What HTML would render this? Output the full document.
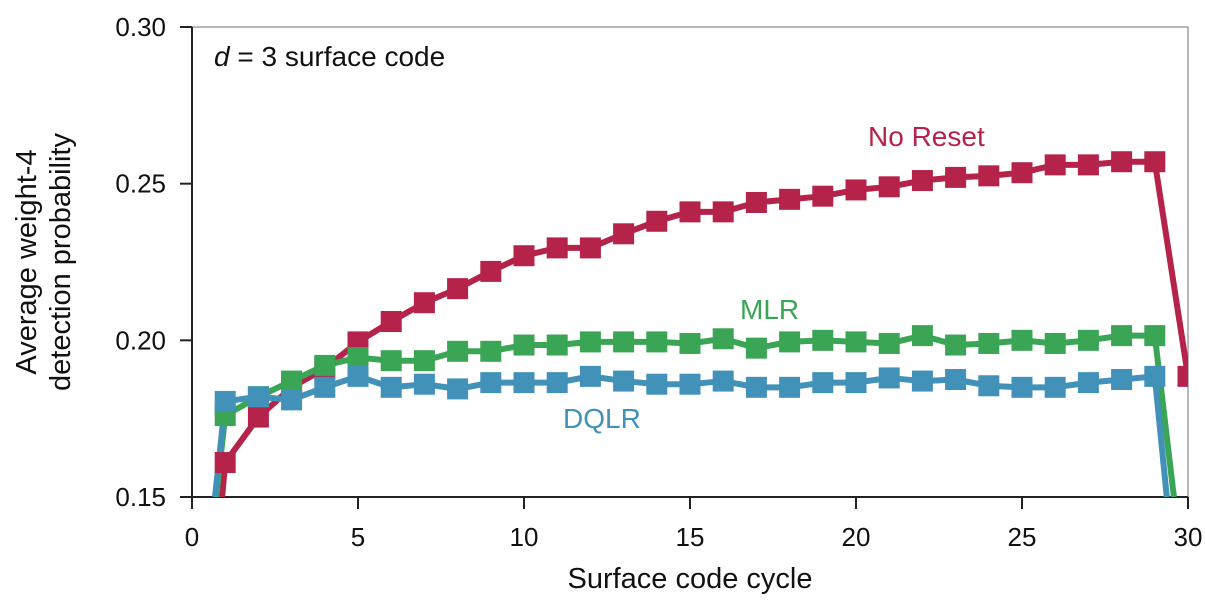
<!DOCTYPE html>
<html><head><meta charset="utf-8"><style>
html,body{margin:0;background:#fff;overflow:hidden;width:1205px;height:600px;}
svg{display:block;}
svg text{font-family:"Liberation Sans",sans-serif;}
</style></head><body>
<svg id="c" width="1205" height="600" viewBox="0 0 1205 600">
<defs><clipPath id="clip"><rect x="192" y="27" width="996" height="470"/></clipPath></defs>
<rect x="192" y="27" width="996" height="470" fill="none" stroke="#888" stroke-width="1.2"/>
<line x1="192" y1="27" x2="192" y2="497" stroke="#222" stroke-width="2"/>
<line x1="192" y1="497" x2="1188" y2="497" stroke="#222" stroke-width="2"/>
<g id="ticks"></g>
<g id="series" clip-path="url(#clip)"></g>
<text x="214" y="66" font-size="28" fill="#111"><tspan font-style="italic">d</tspan> = 3 surface code</text>
<text x="868" y="146" font-size="28" fill="#b5234a">No Reset</text>
<text x="740" y="319" font-size="28" fill="#3aa655">MLR</text>
<text x="563" y="428" font-size="28" fill="#4191b8">DQLR</text>
<text x="690" y="588" font-size="29" fill="#111" text-anchor="middle">Surface code cycle</text>
<text transform="translate(36,262) rotate(-90)" font-size="29" fill="#111" text-anchor="middle"><tspan x="0" dy="0">Average weight-4</tspan><tspan x="0" dy="34">detection probability</tspan></text>
</svg>
<script>
const xTicks=[0,5,10,15,20,25,30];
const yTicks=[0.15,0.20,0.25,0.30];
const yTickLabels=["0.15","0.20","0.25","0.30"];
const cycles=[0,1,2,3,4,5,6,7,8,9,10,11,12,13,14,15,16,17,18,19,20,21,22,23,24,25,26,27,28,29,30];
const noReset=[0.042,0.161,0.1755,0.185,0.191,0.1995,0.206,0.212,0.2165,0.222,0.227,0.2295,0.2295,0.234,0.238,0.241,0.241,0.244,0.245,0.246,0.248,0.249,0.251,0.252,0.2525,0.2535,0.256,0.256,0.257,0.257,0.1885];
const mlr=[0.08,0.176,0.182,0.187,0.192,0.1945,0.1935,0.1935,0.1965,0.1965,0.1985,0.1985,0.1995,0.1995,0.1995,0.199,0.2005,0.1975,0.1995,0.2,0.1995,0.199,0.2015,0.1985,0.199,0.2,0.199,0.2,0.2015,0.2015,0.112];
const dqlr=[0.081,0.1805,0.182,0.181,0.185,0.1885,0.185,0.186,0.1845,0.1865,0.1865,0.1865,0.1885,0.187,0.186,0.186,0.187,0.185,0.185,0.1865,0.1865,0.188,0.187,0.1875,0.1855,0.185,0.185,0.1865,0.1875,0.1885,0.082];
const YMIN=0.15;
const X=v=>192+v*(996/30);
const Y=v=>497-(v-0.15)*(470/0.15);
const NS="http://www.w3.org/2000/svg";
function mk(t,a,p){const e=document.createElementNS(NS,t);for(const k in a)e.setAttribute(k,a[k]);p.appendChild(e);return e;}
const tk=document.getElementById('ticks');
xTicks.forEach(v=>{
 const l=mk('line',{x1:X(v),x2:X(v),y1:497,y2:509,stroke:'#222','stroke-width':2},tk);
 
 
 const t=mk('text',{x:X(v),y:546,'font-size':26,'text-anchor':'middle',fill:'#111'},tk);
 t.textContent=v;
 
 
});
yTicks.forEach((v,i)=>{
 const l=mk('line',{x1:180,x2:192,y1:Y(v),y2:Y(v),stroke:'#222','stroke-width':2},tk);
 
 
 const t=mk('text',{x:166,y:Y(v)+9,'font-size':26,'text-anchor':'end',fill:'#111'},tk);
 t.textContent=yTickLabels[i];
 
 
});
// clip data line to y >= YMIN (in data space)
function clippedPoints(d){
 const pts=[];
 for(let i=0;i<d.length;i++){
  const x=cycles[i],v=d[i];
  if(v>=YMIN){pts.push([x,v]);}
  if(i<d.length-1){
   const x2=cycles[i+1],v2=d[i+1];
   if((v<YMIN)!==(v2<YMIN)){
    const t=(YMIN-v)/(v2-v);
    pts.push([x+(x2-x)*t,YMIN]);
   }
  }
 }
 return pts;
}
const sg=document.getElementById('series');
const series=[[noReset,'#b5234a','no-reset'],[mlr,'#3aa655','mlr'],[dqlr,'#4191b8','dqlr']];
series.forEach(([d,c,n])=>{
 const p=mk('polyline',{points:clippedPoints(d).map(([x,v])=>X(x)+','+Y(v)).join(' '),fill:'none',stroke:c,'stroke-width':6,'stroke-linejoin':'round'},sg);
 
 
});
series.forEach(([d,c,n])=>{
 d.forEach((v,i)=>{
  if(v<0.15||v>0.30)return;
  const r=mk('rect',{x:X(cycles[i])-10.5,y:Y(v)-10.5,width:21,height:21,fill:c},sg);
  
  
 });
});
</script>
</body></html>
